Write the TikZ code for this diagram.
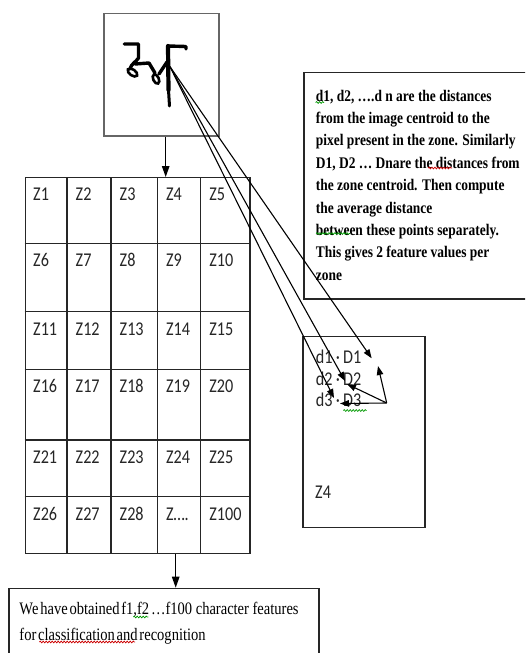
\documentclass[tikz,border=0pt]{standalone}
\usepackage{fontspec}
\setmainfont{Liberation Serif}[FakeStretch=0.83]
\newfontfamily\calfont{Carlito}[FakeStretch=0.83]
\newfontfamily\tightserif{Liberation Serif}[FakeStretch=0.83, WordSpace=0.5]
\usetikzlibrary{arrows.meta,decorations.pathmorphing}
\tikzset{
  box/.style={draw=black!85, line width=1.3pt, inner sep=0pt},
  gridline/.style={draw=black!85, line width=1.3pt},
  lbl/.style={font=\calfont\fontsize{19.5}{22}\selectfont, inner sep=0pt, anchor=base west, text=black!85},
  downarr/.style={-{Triangle[length=11pt,width=7.5pt]}, line width=1.2pt},
  arr/.style={-{Triangle[length=9pt,width=6.5pt]}, line width=1.1pt},
  ink/.style={line width=3.4pt, line cap=round, line join=round},
  squig/.style={line width=0.7pt, decorate, decoration={snake, amplitude=0.9pt, segment length=3pt}},
}
\begin{document}
\begin{tikzpicture}[x=1pt,y=-1pt]
\useasboundingbox (0,0) rectangle (525,653);
\clip (0,0) rectangle (525,653);
\fill[white] (0,0) rectangle (525,653);

% top image box with handwritten character
\node[draw=black!60, line width=1.7pt, inner sep=0pt, anchor=north west,
      minimum width=115pt, minimum height=122.3pt] (img) at (103.3,12.7) {};
\draw[ink] (124.3,44) -- (138.5,44) -- (138.5,58)
  .. controls (136,62) and (131,64) .. (130,69);
\draw[line width=2.6pt, rotate around={-35:(132.5,72.5)}] (132.5,72.5) ellipse (5.5pt and 3pt);
\draw[ink] (135,64) -- (149,63) -- (155,73);
\draw[line width=2.6pt, rotate around={-65:(156,79)}] (156,79) ellipse (5pt and 2.8pt);
\draw[ink] (159,74) -- (167,62);
\draw[line width=4.2pt, line cap=round] (168,46) -- (168.5,90);
\draw[line width=3pt, line cap=round] (168.5,90) -- (169.5,106);
\draw[ink] (168,46) -- (186,46.5) -- (186,49);

% grid of zones
\node[box, anchor=north west, minimum width=224.8pt, minimum height=375.7pt] (grid) at (24.5,177) {};
\foreach \x in {67,111,157.3,200.7} \draw[gridline] (\x,177) -- (\x,552.7);
\foreach \y in {243.3,311.7,369.3,440,496.7} \draw[gridline] (24.5,\y) -- (249.3,\y);
\foreach \r/\y in {0/177,1/243.3,2/311.7,3/369.3,4/440} {
  \foreach \c/\x in {1/24.5,2/67,3/111,4/157.3,5/200.7} {
    \pgfmathtruncatemacro\n{5*\r+\c}
    \node[lbl] (z\n) at (\x+8.5,\y+23.5) {Z\n};
  }
}
\node[lbl] (z26) at (33,520.2) {Z26};
\node[lbl] (z27) at (75.5,520.2) {Z27};
\node[lbl] (z28) at (119.5,520.2) {Z28};
\node[lbl] (z29) at (165.8,520.2) {Z….};
\node[lbl] (z30) at (209.2,520.2) {Z100};

% arrows down
\coordinate (ax1) at (165.7,0);
\coordinate (ax2) at (175.7,0);
\draw[downarr] (img.south -| ax1) -- (grid.north -| ax1);

% explanation text box
\node[box, anchor=north west, minimum width=240pt, minimum height=226.6pt] (tbox) at (303.3,71.7) {};
\node[anchor=north west, inner sep=0pt, align=left,
      font=\bfseries\fontsize{16.2}{22.4}\selectfont] (ttext) at (315.7,89.7)
  {d1, d2, ….d n are the distances\\
   from the image centroid to the\\
   pixel present in the zone. Similarly\\
   D1, D2 … Dnare the distances from\\
   the zone centroid. Then compute\\
   the average distance\\
   between these points separately.\\
   This gives 2 feature values per\\
   zone};

% zone detail box
\node[box, anchor=north west, minimum width=122pt, minimum height=190.7pt] (zbox) at (302.3,336) {};
\node[lbl] (dd1) at (315.7,363.3) {d1\,·\,D1};
\node[lbl] (dd2) at (315.7,385) {d2\,·\,D2};
\node[lbl] (dd3) at (315.7,406.7) {d3\,·\,D3};
\node[lbl] (zz4) at (315,498.3) {Z4};

% bottom box
\node[box, anchor=north west, minimum width=310pt, minimum height=80pt] (bbox) at (8.3,587.7) {};
\node[anchor=north west, inner sep=0pt, align=left,
      font=\tightserif\fontsize{17.5}{25.7}\selectfont] (btext) at (19.3,602.3)
  {We have obtained f1,f2 …f100\ \ character\ \ features\\
   for classification and recognition};
\draw[downarr] (grid.south -| ax2) -- (bbox.north -| ax2);

% centroid distance arrows
\coordinate (ic) at (170,66.7);
\coordinate (p1) at (371.7,358.3);
\coordinate (p2) at (345,381);
\coordinate (p3) at (334,398);
\coordinate (zc) at (386.7,403);
\coordinate (q1) at (378,366);
\coordinate (q2) at (347,384);
\coordinate (q3) at (340,403.5);
\foreach \p in {p1,p2,p3} \draw[arr] (ic) -- (\p);
\foreach \q in {q1,q2,q3} \draw[arr] (zc) -- (\q);

% spelling squiggles
\draw[squig, green!60!black] (315.7,102.5) -- (324,102.5);
\draw[squig, red!80!black] (428,168) -- (452,168);
\draw[squig, green!60!black] (316,233.5) -- (350,233.5);
\draw[squig, green!60!black] (343.3,410.5) -- (366.7,410.5);
\draw[squig, green!60!black] (133.3,617) -- (148.3,617);
\draw[squig, red!80!black] (39.3,642) -- (135,642);
\end{tikzpicture}
\end{document}
